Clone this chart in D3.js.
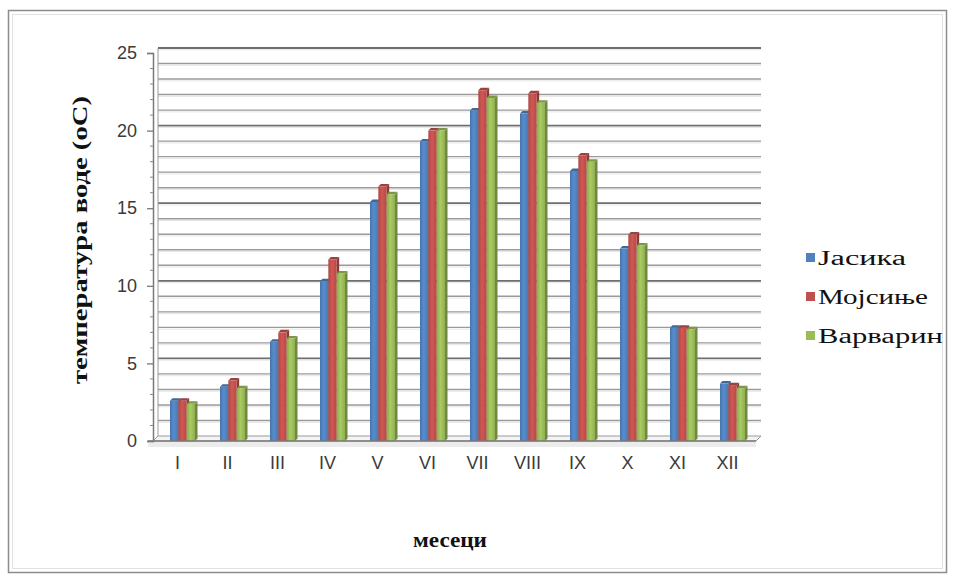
<!DOCTYPE html>
<html><head><meta charset="utf-8">
<script src="https://cdn.jsdelivr.net/npm/d3@7/dist/d3.min.js"></script>
<style>body{margin:0;background:#fff}svg{display:block}</style>
</head><body>
<svg id="c" width="956" height="581"></svg>
<script>
const months = ["I","II","III","IV","V","VI","VII","VIII","IX","X","XI","XII"];
const seriesNames = ["Јасика","Мојсиње","Варварин"];
const jasika   = [2.6, 3.5, 6.4, 10.3, 15.4, 19.3, 21.3, 21.1, 17.4, 12.4, 7.3, 3.7];
const mojsinje = [2.6, 3.9, 7.0, 11.7, 16.4, 20.0, 22.6, 22.4, 18.4, 13.3, 7.3, 3.6];
const varvarin = [2.4, 3.4, 6.6, 10.8, 15.9, 20.0, 22.1, 21.8, 18.0, 12.6, 7.2, 3.4];
const yTicks = [0,5,10,15,20,25];
const colors = ["#4F81BD","#C0504D","#9BBB59"];
const yTitle = "температура воде (оС)";
const xTitle = "месеци";

const svg = d3.select("#c");
const values = [jasika, mojsinje, varvarin];

// border
svg.append("rect").attr("x",8.5).attr("y",10.5).attr("width",938).attr("height",562)
  .attr("fill","none").attr("stroke","#8c8c8c").attr("stroke-width",1.5);
svg.append("rect").attr("x",12.5).attr("y",14.5).attr("width",930).attr("height",554)
  .attr("fill","none").attr("stroke","#e2e2e2").attr("stroke-width",1);

const y = d3.scaleLinear().domain([0,25]).range([441,53]);
const x = d3.scaleBand().domain(months).range([157.5,757.5]).paddingInner(0.5).paddingOuter(0.25);
const xs = d3.scaleBand().domain(seriesNames).range([0,x.bandwidth()]);
const dx = 5, dy = -5;
const wallL = 158, wallR = 761;

// floor
const fl = svg.append("g");
fl.append("rect").attr("x",148).attr("y",442).attr("width",608).attr("height",5).attr("fill","#ececec");
fl.append("path").attr("d",`M153,${y(0)}L${wallR-dx},${y(0)}L${wallR},${y(0)+dy}L${wallL},${y(0)+dy}Z`)
  .attr("fill","#f4f4f4").attr("stroke","#9a9a9a").attr("stroke-width",1);

// wall gridlines
const grid = d3.range(1,26);
svg.append("g").selectAll("line").data(grid).join("line")
  .attr("x1",wallL).attr("x2",wallR)
  .attr("y1",d=>y(d)+dy).attr("y2",d=>y(d)+dy)
  .attr("stroke",d=>d%5===0?"#6e6e6e":"#9a9a9a")
  .attr("stroke-width",d=>d%5===0?1.8:1.4);
svg.append("g").selectAll("line").data(grid).join("line")
  .attr("x1",wallL).attr("x2",wallR)
  .attr("y1",d=>y(d)+dy+1.8).attr("y2",d=>y(d)+dy+1.8)
  .attr("stroke","#e6e6e6").attr("stroke-width",1);
svg.append("line").attr("x1",wallL).attr("x2",wallL).attr("y1",y(25)+dy).attr("y2",y(0)+dy)
  .attr("stroke","#9a9a9a").attr("stroke-width",1);

// gradients
const defs = svg.append("defs");
colors.forEach((c,i)=>{
  const g = defs.append("linearGradient").attr("id","g"+i).attr("x1","0").attr("x2","1").attr("y1","0").attr("y2","0");
  g.append("stop").attr("offset","0").attr("stop-color",d3.color(c).darker(0.3));
  g.append("stop").attr("offset","0.45").attr("stop-color",d3.color(c).brighter(0.25));
  g.append("stop").attr("offset","1").attr("stop-color",d3.color(c).darker(0.2));
});

// bars
const bd = 2.5;
const groups = svg.append("g").selectAll("g").data(months).join("g")
  .attr("transform",d=>`translate(${x(d)},0)`);
seriesNames.forEach((s,si)=>{
  groups.each(function(m,mi){
    const g = d3.select(this);
    const v = values[si][mi];
    const x0 = xs(s), w = xs.bandwidth(), yt = y(v), yb = y(0);
    g.append("path").attr("d",`M${x0+w},${yt}L${x0+w+bd},${yt-bd}L${x0+w+bd},${yb-bd}L${x0+w},${yb}Z`)
      .attr("fill",d3.color(colors[si]).darker(0.9));
    g.append("path").attr("d",`M${x0},${yt}L${x0+bd},${yt-bd}L${x0+w+bd},${yt-bd}L${x0+w},${yt}Z`)
      .attr("fill",d3.color(colors[si]).darker(0.6));
    g.append("rect").attr("x",x0).attr("y",yt).attr("width",w).attr("height",yb-yt)
      .attr("fill",`url(#g${si})`);
  });
});

// front axis line
svg.append("line").attr("x1",148).attr("x2",wallR-dx).attr("y1",y(0)).attr("y2",y(0))
  .attr("stroke","#7a7a7a").attr("stroke-width",1.5);

// y axis
const ya = svg.append("g").attr("transform","translate(153,0)")
  .call(d3.axisLeft(y).tickValues(yTicks).tickSize(6).tickPadding(10));
ya.select(".domain").attr("stroke","#7a7a7a").attr("stroke-width",1.5);
ya.selectAll(".tick line").attr("stroke","#7a7a7a").attr("stroke-width",1.3);
ya.selectAll(".tick text").attr("font-family","Liberation Sans, Arial, sans-serif")
  .attr("font-size",18).attr("fill","#3a3a3a");
svg.append("g").selectAll("line").data(d3.range(0,26).filter(d=>d%5)).join("line")
  .attr("x1",150).attr("x2",153).attr("y1",d=>y(d)).attr("y2",d=>y(d))
  .attr("stroke","#8a8a8a").attr("stroke-width",1);

// x labels
svg.append("g").selectAll("text").data(months).join("text")
  .attr("x",d=>x(d)+x.bandwidth()/2-5).attr("y",469)
  .attr("text-anchor","middle")
  .attr("font-family","Liberation Sans, Arial, sans-serif").attr("font-size",18).attr("fill","#3a3a3a")
  .text(d=>d);

// titles
svg.append("text").attr("transform","translate(87,240) rotate(-90)")
  .attr("text-anchor","middle").attr("font-family","Liberation Serif, Times New Roman, serif")
  .attr("font-weight","bold").attr("font-size",20).attr("fill","#111")
  .attr("textLength",288).attr("lengthAdjust","spacingAndGlyphs")
  .text(yTitle);
svg.append("text").attr("x",450).attr("y",547)
  .attr("text-anchor","middle").attr("font-family","Liberation Serif, Times New Roman, serif")
  .attr("font-weight","bold").attr("font-size",20).attr("fill","#111")
  .attr("textLength",74).attr("lengthAdjust","spacingAndGlyphs")
  .text(xTitle);

// legend
const legendLen = [88, 110, 125];
const lg = svg.append("g").selectAll("g").data(seriesNames).join("g")
  .attr("transform",(d,i)=>`translate(806,${258+i*39})`);
lg.append("rect").attr("x",0).attr("y",-5).attr("width",9).attr("height",9)
  .attr("fill",(d,i)=>colors[i]);
lg.append("text").attr("x",12).attr("y",7)
  .attr("font-family","Liberation Serif, Times New Roman, serif").attr("font-size",20).attr("fill","#111")
  .attr("textLength",(d,i)=>legendLen[i]).attr("lengthAdjust","spacingAndGlyphs")
  .text(d=>d);
</script>
</body></html>
